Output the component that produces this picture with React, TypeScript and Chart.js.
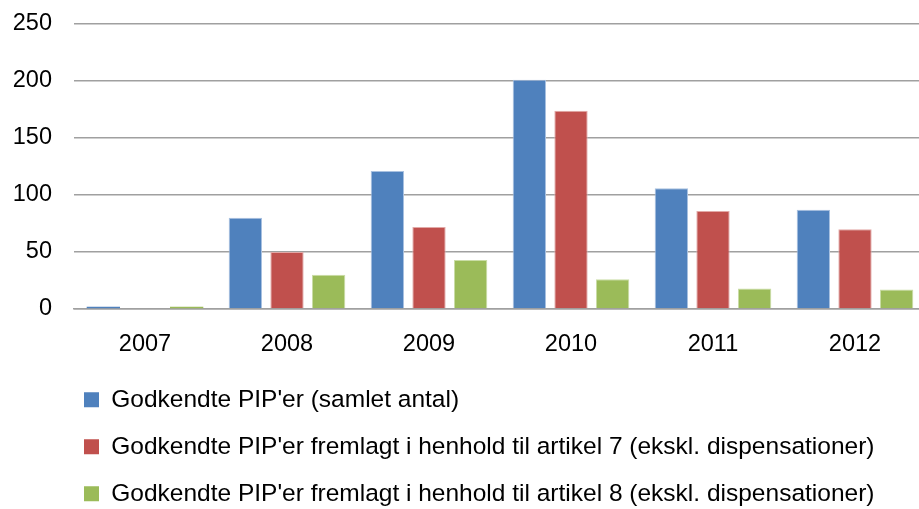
import React, { useEffect, useRef } from "react";
import { Chart, registerables } from "chart.js";

Chart.register(...registerables);

const categories = ["2007", "2008", "2009", "2010", "2011", "2012"];
const seriesNames = [
  "Godkendte PIP'er (samlet antal)",
  "Godkendte PIP'er fremlagt i henhold til artikel 7 (ekskl. dispensationer)",
  "Godkendte PIP'er fremlagt i henhold til artikel 8 (ekskl. dispensationer)",
];
const totalApproved = [2, 80, 121, 201, 106, 87];
const article7 = [0, 50, 72, 174, 86, 70];
const article8 = [2, 30, 43, 26, 18, 17];
const yMax = 250;
const yStep = 50;

const colors = ["#4F81BD", "#C0504D", "#9BBB59"];
const edgeColors = ["#A9C1E0", "#E2A9A7", "#CADDA6"];

const FONT = "'Liberation Sans', Arial, sans-serif";
const LEGEND_PAD = 22.5;
const LEGEND_LEFT = 84;
const PAD_LEFT = 8;

const legendShift = {
  id: "legendShift",
  afterLayout(chart: any) {
    if (chart.legend) {
      chart.legend.left = LEGEND_LEFT - LEGEND_PAD;
    }
  },
};

export default function App() {
  const ref = useRef<HTMLCanvasElement | null>(null);

  useEffect(() => {
    if (!ref.current) return;
    const values = [totalApproved, article7, article8];
    const chart = new Chart(ref.current, {
      type: "bar",
      data: {
        labels: categories,
        datasets: values.map((v, i) => ({
          label: seriesNames[i],
          data: v,
          backgroundColor: colors[i],
          borderColor: edgeColors[i],
          borderWidth: (ctx: any) => {
            const val = ctx.raw;
            return typeof val === "number" && val < 5 ? 0 : 1;
          },
          categoryPercentage: 0.88,
          barPercentage: 0.8,
        })),
      },
      plugins: [legendShift],
      options: {
        animation: false,
        responsive: true,
        maintainAspectRatio: false,
        layout: { padding: { left: PAD_LEFT, top: 24, right: 0, bottom: 0 } },
        plugins: {
          tooltip: { enabled: false },
          legend: {
            position: "bottom",
            align: "start",
            labels: {
              color: "#000",
              font: { family: FONT, size: 24.5 },
              boxWidth: 15,
              boxHeight: 15,
              padding: LEGEND_PAD,
              generateLabels: (c: any) =>
                c.data.datasets.map((ds: any, i: number) => ({
                  text: ds.label,
                  fillStyle: colors[i],
                  strokeStyle: colors[i],
                  lineWidth: 0,
                  hidden: false,
                  datasetIndex: i,
                  fontColor: "#000",
                })),
            },
          },
        },
        scales: {
          x: {
            grid: { display: false, drawTicks: false },
            border: { display: true, color: "#A0A0A0", width: 1.5 },
            ticks: {
              color: "#000",
              font: { family: FONT, size: 23.5 },
              padding: 21,
            },
            afterFit: (scale: any) => {
              scale.height = 56;
            },
          },
          y: {
            min: 0,
            max: yMax,
            grid: { color: "#A0A0A0", lineWidth: 1.5, drawTicks: false },
            border: { display: false },
            ticks: {
              stepSize: yStep,
              color: "#000",
              font: { family: FONT, size: 23.5 },
              padding: 22,
            },
            afterFit: (scale: any) => {
              scale.width = 74 - PAD_LEFT;
              scale.paddingTop = 0;
              scale.paddingBottom = 0;
            },
          },
        },
      },
    });
    return () => chart.destroy();
  }, []);

  return (
    <div
      style={{
        position: "fixed",
        left: 0,
        top: 0,
        width: 926,
        height: 516,
        background: "#fff",
      }}
    >
      <canvas ref={ref} />
    </div>
  );
}
